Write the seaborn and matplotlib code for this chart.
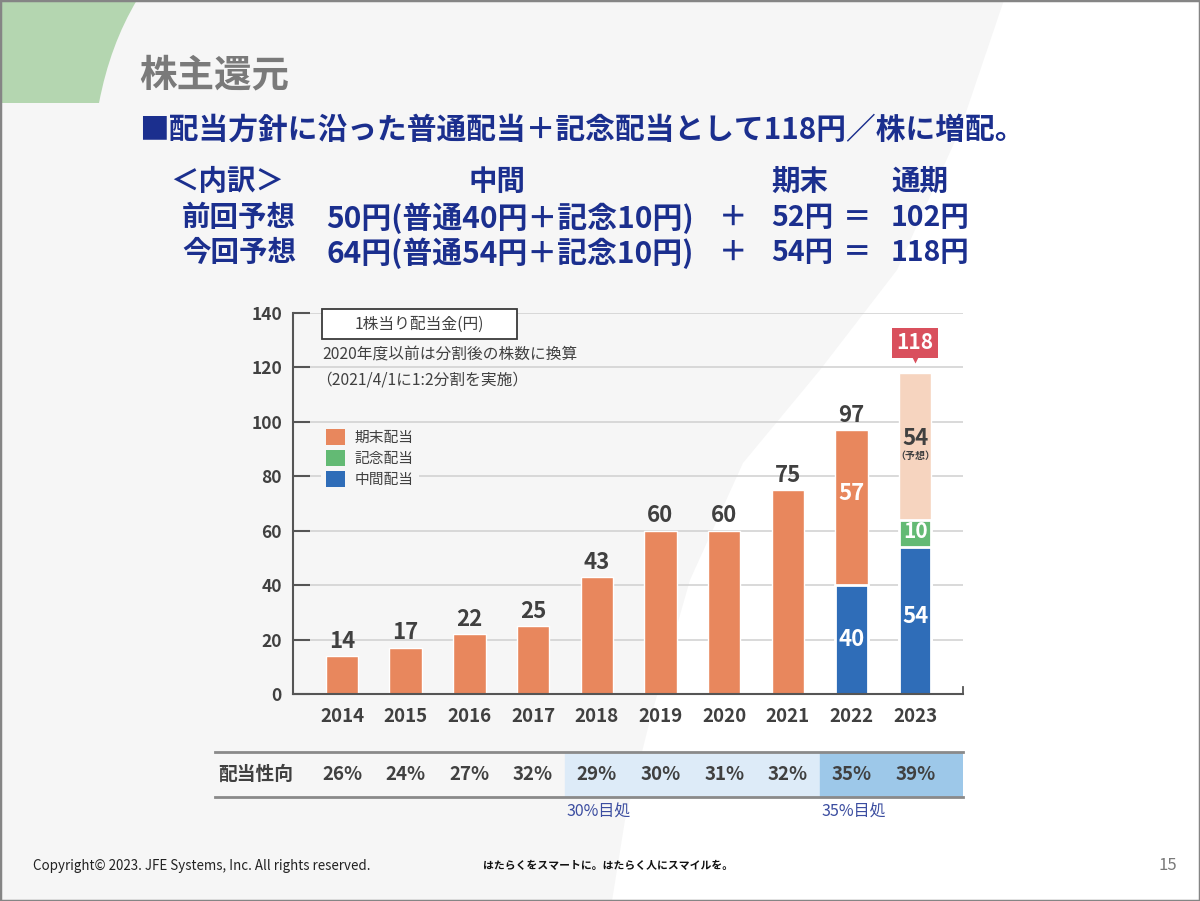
import numpy as np
import pandas as pd
import matplotlib
matplotlib.use("Agg")
import matplotlib.pyplot as plt
import seaborn as sns
from matplotlib.patches import Patch, Rectangle, PathPatch, Polygon
from matplotlib.path import Path

# ---------------- data ----------------
years = ["2014", "2015", "2016", "2017", "2018", "2019", "2020", "2021", "2022", "2023"]
interim = [0, 0, 0, 0, 0, 0, 0, 0, 40, 54]          # 中間配当
commemorative = [0, 0, 0, 0, 0, 0, 0, 0, 0, 10]     # 記念配当
year_end = [14, 17, 22, 25, 43, 60, 60, 75, 57, 54]  # 期末配当
totals = [14, 17, 22, 25, 43, 60, 60, 75, 97, 118]
payout = ["26%", "24%", "27%", "32%", "29%", "30%", "31%", "32%", "35%", "39%"]
legend_labels = ["期末配当", "記念配当", "中間配当"]

# ---------------- style ----------------
ORANGE = "#E8875D"
PEACH = "#F6D4BF"
GREEN = "#63BA74"
BLUE = "#2F6DB8"
RED = "#D9505D"
DARK = "#404040"
NAVY = "#1B2F8E"
BG = "#F6F6F6"

sns.set_theme(style="white")
plt.rcParams["font.family"] = ["Noto Sans CJK JP", "DejaVu Sans"]

W, H = 1200, 901
fig = plt.figure(figsize=(12, 9.01), dpi=100)
fig.patch.set_facecolor(BG)


def fx(x):
    return x / W


def fy(y):
    return 1 - y / H


def ftext(x, y, s, **kw):
    kw.setdefault("va", "center")
    fig.text(fx(x), fy(y), s, **kw)


# background white sweep on the right (decoration)
sweep_px = [(1004, 0), (960, 130), (897, 270), (820, 370), (743, 463), (690, 580),
            (650, 720), (625, 820), (612, 901), (1200, 901), (1200, 0)]
fig.patches.append(Polygon([(fx(a), fy(b)) for a, b in sweep_px], closed=True,
                           transform=fig.transFigure, fc="white", ec="none", zorder=-10))
# green shape top-left
gverts = [(0, 1), (fx(137), 1), (fx(110), fy(45)), (fx(99), fy(103)), (0, fy(103)), (0, 1)]
gcodes = [Path.MOVETO, Path.LINETO, Path.CURVE3, Path.CURVE3, Path.LINETO, Path.CLOSEPOLY]
fig.patches.append(PathPatch(Path(gverts, gcodes), transform=fig.transFigure,
                             fc="#B4D6B0", ec="none", zorder=-9))
# border
fig.patches.append(Rectangle((0, 0), 1, 1, transform=fig.transFigure, fill=False,
                             ec="#858585", lw=2.5, zorder=20))

# ---------------- header texts ----------------
ftext(139, 75, "株主還元", fontsize=27, fontweight="bold", color="#7A7A7A")
ftext(139, 130, "■配当方針に沿った普通配当＋記念配当として118円／株に増配。",
      fontsize=21.4, fontweight="bold", color=NAVY)

row_kw = dict(fontsize=20.5, fontweight="bold", color=NAVY)
ftext(170, 182, "＜内訳＞", **row_kw)
ftext(497, 182, "中間", ha="center", **row_kw)
ftext(771, 182, "期末", **row_kw)
ftext(891, 182, "通期", **row_kw)

ftext(182, 218, "前回予想", **row_kw)
ftext(326, 218, "50円(普通40円＋記念10円)", fontsize=21.5, fontweight="bold", color=NAVY)
ftext(733, 218, "＋", ha="center", **row_kw)
ftext(771, 218, "52円", **row_kw)
ftext(857, 218, "＝", ha="center", **row_kw)
ftext(891, 218, "102円", **row_kw)

ftext(182, 253, "今回予想", **row_kw)
ftext(326, 253, "64円(普通54円＋記念10円)", fontsize=21.5, fontweight="bold", color=NAVY)
ftext(733, 253, "＋", ha="center", **row_kw)
ftext(771, 253, "54円", **row_kw)
ftext(857, 253, "＝", ha="center", **row_kw)
ftext(891, 253, "118円", **row_kw)

# ---------------- bar chart ----------------
ax = fig.add_axes([fx(293), fy(694), (963 - 293) / W, (694 - 313) / H])
ax.set_facecolor("none")

df = pd.DataFrame({
    "year": years,
    "interim": interim,
    "commemorative": commemorative,
    "year_end": year_end,
    "total": totals,
})
df["cum_commem"] = df["interim"] + df["commemorative"]

top_palette = {y: ORANGE for y in years}
top_palette[years[-1]] = PEACH  # forecast year-end dividend

BW = 0.51
sns.barplot(data=df, x="year", y="total", hue="year", palette=top_palette, order=years,
            width=BW, saturation=1, legend=False, ax=ax, zorder=3)
df_g = df[df["commemorative"] > 0]
sns.barplot(data=df_g, x="year", y="cum_commem", order=years, color=GREEN,
            width=BW, saturation=1, edgecolor="white", linewidth=2.0, ax=ax, zorder=4)
df_b = df[df["interim"] > 0]
sns.barplot(data=df_b, x="year", y="interim", order=years, color=BLUE,
            width=BW, saturation=1, edgecolor="white", linewidth=2.0, ax=ax, zorder=5)

ax.set_xlim(-0.77, 9.75)
ax.set_ylim(0, 140)
ax.set_yticks(range(0, 141, 20))
ax.set_xlabel("")
ax.set_ylabel("")
ax.yaxis.grid(True, color="#CFCFCF", lw=1.1)
ax.xaxis.grid(False)
ax.set_axisbelow(True)
ax.spines["top"].set_visible(False)
ax.spines["right"].set_visible(True)
ax.spines["right"].set_bounds(0, 2.5)
ax.spines["right"].set_color("#555555")
ax.spines["right"].set_linewidth(1.3)
ax.spines["left"].set_color("#555555")
ax.spines["left"].set_linewidth(1.5)
ax.spines["bottom"].set_color("#555555")
ax.spines["bottom"].set_linewidth(1.5)
ax.spines["bottom"].set_zorder(8)
ax.tick_params(axis="y", direction="in", length=12, width=1.5, color="#555555",
               labelsize=12.5, labelcolor=DARK, pad=8, left=True, right=False)
ax.tick_params(axis="x", length=0, labelsize=13.5, labelcolor=DARK, pad=9)
for lab in ax.get_yticklabels() + ax.get_xticklabels():
    lab.set_fontweight("bold")

# totals above bars (except forecast)
for i in range(len(years) - 1):
    ax.annotate(str(totals[i]), (i, totals[i]), xytext=(0, 6), textcoords="offset points",
                ha="center", va="baseline", fontsize=16, fontweight="bold", color=DARK, zorder=6)

# inside labels
lab_kw = dict(ha="center", va="center", fontsize=16, fontweight="bold", zorder=7)
i22 = years.index("2022")
ax.text(i22, interim[i22] + year_end[i22] / 2 + 5, str(year_end[i22]), color="white", **lab_kw)
ax.text(i22, interim[i22] / 2, str(interim[i22]), color="white", **lab_kw)
i23 = years.index("2023")
ax.text(i23, interim[i23] / 2 + 1.5, str(interim[i23]), color="white", **lab_kw)
ax.text(i23, interim[i23] + commemorative[i23] / 2 + 0.6, str(commemorative[i23]), color="white",
        ha="center", va="center", fontsize=15, fontweight="bold", zorder=7)
ax.text(i23, interim[i23] + commemorative[i23] + year_end[i23] / 2 + 3, str(year_end[i23]),
        color=DARK, **lab_kw)
ax.text(i23, interim[i23] + commemorative[i23] + year_end[i23] / 2 - 3.7, "（予想）",
        ha="center", va="center", fontsize=7.2, fontweight="bold", color=DARK, zorder=7)

# callout for forecast total
ax.text(i23, totals[i23] + 11, str(totals[i23]), ha="center", va="center", fontsize=15,
        fontweight="bold", color="white", zorder=9,
        bbox=dict(boxstyle="square,pad=0.22", fc=RED, ec="none"))
ax.plot([i23], [totals[i23] + 5.3], marker="v", ms=7, color=RED, mec="none", zorder=9,
        clip_on=False)

# legend
handles = [Patch(fc=ORANGE, ec="none"), Patch(fc=GREEN, ec="none"), Patch(fc=BLUE, ec="none")]
leg = ax.legend(handles, legend_labels, loc="upper left",
                bbox_to_anchor=(fx(321), fy(424)), bbox_transform=fig.transFigure,
                fontsize=10.6, handlelength=1.25, handleheight=1.25, labelspacing=0.36,
                handletextpad=0.7, borderpad=0.35, borderaxespad=0, frameon=True,
                fancybox=False, facecolor=BG, edgecolor="none", framealpha=1)
for t in leg.get_texts():
    t.set_color(DARK)
leg.set_zorder(10)

# note box
fig.patches.append(Rectangle((fx(322), fy(339)), (517 - 322) / W, (339 - 309) / H,
                             transform=fig.transFigure, fc="white", ec="#3A3A3A", lw=1.3, zorder=5))
ftext(419, 324, "1株当り配当金(円)", ha="center", fontsize=11.3, color=DARK, zorder=6)
ftext(322, 355, "2020年度以前は分割後の株数に換算", fontsize=11.3, color=DARK, zorder=6)
ftext(316, 380, "（2021/4/1に1:2分割を実施）", fontsize=11.3, color=DARK, zorder=6)

# ---------------- payout ratio table ----------------
tax = fig.add_axes([fx(215), fy(797), (963 - 215) / W, (797 - 752) / H])
tax.set_facecolor("none")
tax.set_xlim(-1.994, 9.75)
tax.set_ylim(0, 1)
tax.axvspan(3.5, 7.5, color="#DDEBF8", zorder=0)
tax.axvspan(7.5, 9.75, color="#9DC8E9", zorder=0)
for s in ["left", "right"]:
    tax.spines[s].set_visible(False)
for s in ["top", "bottom"]:
    tax.spines[s].set_visible(True)
    tax.spines[s].set_color("#8A8A8A")
    tax.spines[s].set_linewidth(2)
tax.set_xticks([])
tax.set_yticks([])
tax.text(-1.95, 0.5, "配当性向", ha="left", va="center", fontsize=13.5, fontweight="bold", color=DARK)
for i, p in enumerate(payout):
    tax.text(i, 0.5, p, ha="center", va="center", fontsize=13.5, fontweight="bold", color=DARK)
tax.text(3.53, -0.33, "30%目処", ha="left", va="center", fontsize=11.5, color="#3B4DA0",
         clip_on=False)
tax.text(7.53, -0.33, "35%目処", ha="left", va="center", fontsize=11.5, color="#3B4DA0",
         clip_on=False)

# ---------------- footer ----------------
ftext(33, 866, "Copyright© 2023. JFE Systems, Inc. All rights reserved.", fontsize=9.6, color="#222222")
ftext(483, 866, "はたらくをスマートに。はたらく人にスマイルを。", fontsize=7.8, fontweight="bold",
      color="#111111")
ftext(1177, 866, "15", ha="right", fontsize=12, color="#7A7A7A")

fig.savefig("out.png", dpi=100)
